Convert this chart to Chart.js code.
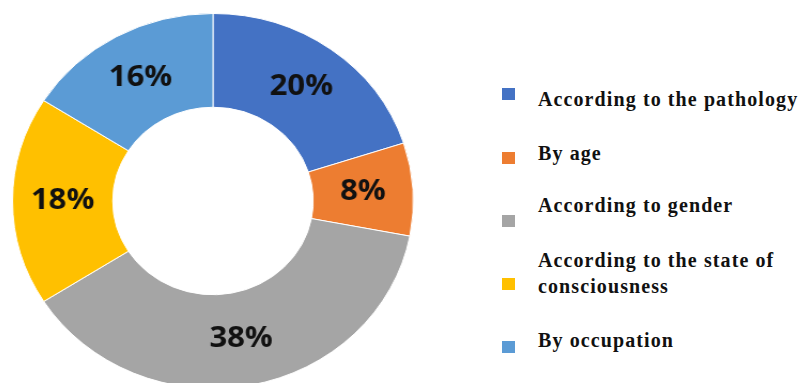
<!DOCTYPE html>
<html>
<head>
<meta charset="utf-8">
<script src="https://cdn.jsdelivr.net/npm/chart.js@4.4.1/dist/chart.umd.min.js"></script>
<style>
  html, body { margin: 0; padding: 0; background: #fff; }
  body { width: 803px; height: 383px; overflow: hidden; position: relative; }
  .ring { position: absolute; left: 12px; top: 0; transform: scaleX(1.069); transform-origin: 0 0; }
  .legend { position: absolute; left: 0; top: 0; font-family: "Liberation Serif", "Times New Roman", serif; font-weight: bold; font-size: 20px; color: #111; }
  .legend .sw { position: absolute; left: 502px; width: 13px; height: 12px; }
  .legend .txt { position: absolute; left: 538px; line-height: 26px; letter-spacing: 1.1px; white-space: nowrap; }
</style>
</head>
<body>
<div class="ring"><canvas id="pie" width="376" height="402"></canvas></div>
<div class="legend" id="legend"></div>
<script>
const categories = [
  "According to the pathology",
  "By age",
  "According to gender",
  "According to the state of\nconsciousness",
  "By occupation"
];
const shares = [20, 8, 38, 18, 16];
const colors = ["#4472C4", "#ED7D31", "#A5A5A5", "#FFC000", "#5B9BD5"];

const sliceLabels = {
  id: "sliceLabels",
  afterDatasetsDraw(chart) {
    const ctx = chart.ctx;
    const meta = chart.getDatasetMeta(0);
    ctx.save();
    ctx.font = 'bold 29px "Open Sans"';
    ctx.fillStyle = "#111";
    ctx.textAlign = "center";
    ctx.textBaseline = "middle";
    meta.data.forEach((arc, i) => {
      const p = arc.tooltipPosition();
      ctx.fillText(shares[i] + "%", p.x, p.y);
    });
    ctx.restore();
  }
};

new Chart(document.getElementById("pie"), {
  type: "doughnut",
  data: {
    labels: categories,
    datasets: [{
      data: shares,
      backgroundColor: colors,
      borderColor: "#fff",
      borderWidth: 1
    }]
  },
  options: {
    responsive: false,
    animation: false,
    cutout: "50%",
    layout: { padding: 0 },
    plugins: {
      legend: { display: false },
      tooltip: { enabled: false }
    }
  },
  plugins: [sliceLabels]
});

// legend on the right: swatch tops and first-line baselines (layout only)
const swatchTops = [88, 152, 215, 278, 341];
const textBaselines = [106, 160, 212, 267, 347];
const legend = document.getElementById("legend");
categories.forEach((name, i) => {
  const lines = name.split("\n");
  const sw = document.createElement("div");
  sw.className = "sw";
  sw.style.top = swatchTops[i] + "px";
  sw.style.background = colors[i];
  legend.appendChild(sw);
  const txt = document.createElement("div");
  txt.className = "txt";
  txt.innerHTML = lines.join("<br>");
  txt.style.top = (textBaselines[i] - 19.9) + "px";
  legend.appendChild(txt);
});
</script>
</body>
</html>
